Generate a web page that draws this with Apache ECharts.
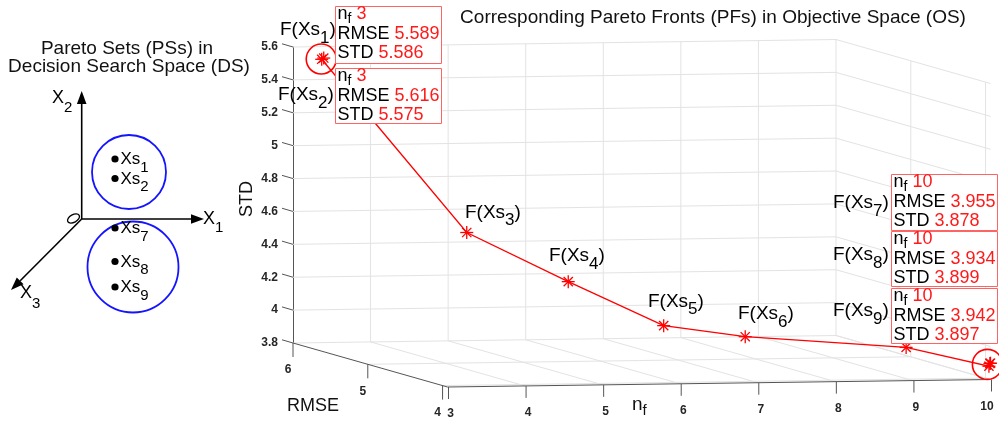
<!DOCTYPE html>
<html><head><meta charset="utf-8">
<script src="https://cdn.jsdelivr.net/npm/echarts@6/dist/echarts.min.js"></script>
<style>html,body{margin:0;padding:0;background:#fff}#c{width:999px;height:424px}</style>
</head><body><div id="c"></div>
<script>
// ---------------- data ----------------
const pointNames = ['Xs1', 'Xs2', 'Xs3', 'Xs4', 'Xs5', 'Xs6', '', 'Xs7', 'Xs8', 'Xs9'];
const nfVals   = [3, 3, 4, 5, 6, 7, 9, 10, 10, 10];
const rmseVals = [5.589, 5.616, 4.714, 4.394, 4.155, 4.102, 4.025, 3.955, 3.934, 3.942];
const stdVals  = [5.586, 5.575, 4.632, 4.368, 4.125, 4.058, 3.990, 3.878, 3.899, 3.897];
const nfTicks   = [3, 4, 5, 6, 7, 8, 9, 10];
const rmseTicks = [4, 5, 6];
const stdTicks  = [3.8, 4, 4.2, 4.4, 4.6, 4.8, 5, 5.2, 5.4, 5.6];
const boxedPoints = ['Xs1', 'Xs2', 'Xs7', 'Xs8', 'Xs9'];
const dsGroups = [['Xs1', 'Xs2'], ['Xs7', 'Xs8', 'Xs9']];

// ---------------- layout / styling ----------------
const FONT = '"Liberation Sans", Arial, Helvetica, sans-serif';
const NF_MIN = 3, NF_MAX = 10, STD_MIN = 3.8, STD_MAX = 5.6;
const RMSE_MAX = 6, RMSE_MIN = Math.min(...rmseVals);
const DEPTH = [154.5, 44];   // screen shift from back (RMSE max) to front (RMSE min)
const TILT = 7.5;            // screen rise of the box from nf min to nf max
const GRID_C = '#e3e3e3', AXIS_C = '#555', TXT_C = '#262626', RED = '#ff1a1a';

const cv = document.createElement('canvas').getContext('2d');
function tw(t, size, bold) { cv.font = (bold ? 'bold ' : '') + size + 'px ' + FONT; return cv.measureText(t).width; }
function txt(x, y, t, size, color, opt) {
  opt = opt || {};
  const font = (opt.bold ? 'bold ' : '') + size + 'px ' + FONT;
  const al = opt.align || 'left';
  return { type: 'text', x: x, y: y, z: opt.z || 100, rotation: opt.rotation || 0, silent: true,
    style: { text: t, fill: color || '#000', font: font, textAlign: al, align: al,
             textVerticalAlign: 'middle', verticalAlign: 'middle' } };
}
// text made of pieces with sub-scripts: parts = [text, size, color, dy]
function rich(x, y, parts, z) {
  const out = []; let cx = x;
  parts.forEach(p => { out.push(txt(cx, y + (p[3] || 0), p[0], p[1], p[2] || '#000', { z: z })); cx += tw(p[0], p[1]); });
  return out;
}

function projector(api) {
  return (n, r, s) => {
    const p = api.coord([n, s]);
    const d = (RMSE_MAX - r) / (RMSE_MAX - RMSE_MIN);
    return [p[0] + d * DEPTH[0], p[1] + d * DEPTH[1] - (n - NF_MIN) / (NF_MAX - NF_MIN) * TILT];
  };
}
function seg(a, b, color, w) {
  return { type: 'line', silent: true, shape: { x1: a[0], y1: a[1], x2: b[0], y2: b[1] }, style: { stroke: color, lineWidth: w || 1 } };
}

// ---------------- frame (3-D box, grid, axes) ----------------
function renderFrame(params, api) {
  const P = projector(api);
  const ch = [];
  // back wall
  stdTicks.forEach(s => ch.push(seg(P(NF_MIN, RMSE_MAX, s), P(NF_MAX, RMSE_MAX, s), GRID_C)));
  nfTicks.filter(n => n > NF_MIN).forEach(n => ch.push(seg(P(n, RMSE_MAX, STD_MIN), P(n, RMSE_MAX, STD_MAX), GRID_C)));
  // right wall
  stdTicks.forEach(s => ch.push(seg(P(NF_MAX, RMSE_MAX, s), P(NF_MAX, RMSE_MIN, s), GRID_C)));
  rmseTicks.filter(r => r < RMSE_MAX).forEach(r => ch.push(seg(P(NF_MAX, r, STD_MIN), P(NF_MAX, r, STD_MAX), GRID_C)));
  // floor
  nfTicks.filter(n => n > NF_MIN).forEach(n => ch.push(seg(P(n, RMSE_MAX, STD_MIN), P(n, RMSE_MIN, STD_MIN), GRID_C)));
  rmseTicks.filter(r => r < RMSE_MAX).forEach(r => ch.push(seg(P(NF_MIN, r, STD_MIN), P(NF_MAX, r, STD_MIN), GRID_C)));
  // axes
  ch.push(seg(P(NF_MIN, RMSE_MAX, STD_MIN), P(NF_MIN, RMSE_MIN, STD_MIN), AXIS_C));
  ch.push(seg(P(NF_MIN, RMSE_MIN, STD_MIN), P(NF_MAX, RMSE_MIN, STD_MIN), AXIS_C));
  // STD ticks (slanted, pointing backwards)
  stdTicks.forEach(s => { const a = P(NF_MIN, RMSE_MAX, s); ch.push(seg(a, [a[0] - 11, a[1] - 3.2], AXIS_C)); });
  // RMSE ticks + labels
  rmseTicks.forEach(r => {
    const a = P(NF_MIN, r, STD_MIN);
    ch.push(seg(a, [a[0], a[1] + 14], AXIS_C));
    ch.push(txt(a[0] - 5, a[1] + 27, String(r), 12, TXT_C, { bold: true, align: 'center', z: 2 }));
  });
  // nf ticks + labels
  nfTicks.forEach(n => {
    const a = P(n, RMSE_MIN, STD_MIN);
    ch.push(seg([a[0] + 1, a[1]], [a[0] + 1, a[1] + 12], AXIS_C));
    ch.push(txt(Math.min(a[0] + 3, 987), a[1] + 27, String(n), 12, TXT_C, { bold: true, align: 'center', z: 2 }));
  });
  return { type: 'group', children: ch };
}

// ---------------- Pareto front line + markers ----------------
function renderLine(params, api) {
  if (params.dataIndexInside !== 0) return null;
  const P = projector(api);
  const pts = [];
  for (let i = 0; i < params.dataInsideLength; i++) pts.push(P(api.value(0, i), api.value(2, i), api.value(1, i)));
  return { type: 'polyline', silent: true, shape: { points: pts }, style: { stroke: '#ff0000', lineWidth: 1.3, fill: null } };
}
function renderStar(params, api) {
  const P = projector(api);
  const c = P(api.value(0), api.value(2), api.value(1));
  const ch = [];
  const R = 6.5;
  for (let k = 0; k < 4; k++) {
    const a = k * Math.PI / 4;
    ch.push({ type: 'line', shape: { x1: c[0] - R * Math.cos(a), y1: c[1] - R * Math.sin(a), x2: c[0] + R * Math.cos(a), y2: c[1] + R * Math.sin(a) },
              style: { stroke: '#ff0000', lineWidth: 1.3 } });
  }
  const i = params.dataIndexInside;
  if (i === 0 || i === params.dataInsideLength - 1) {
    ch.push({ type: 'circle', shape: { cx: c[0] - 2.5, cy: c[1] + 1, r: 15 }, style: { stroke: '#ff0000', fill: null, lineWidth: 1.6 } });
  }
  return { type: 'group', children: ch };
}

// ---------------- annotations ----------------
const gfx = [];
// titles
gfx.push(txt(713, 18, 'Corresponding Pareto Fronts (PFs) in Objective Space (OS)', 19, '#111', { align: 'center' }));
gfx.push(txt(127, 49, 'Pareto Sets (PSs) in', 19, '#111', { align: 'center' }));
gfx.push(txt(129, 67, 'Decision Search Space (DS)', 19, '#111', { align: 'center' }));
// axis titles
gfx.push(txt(313, 406, 'RMSE', 18, '#111', { align: 'center' }));
gfx.push(...rich(632, 405, [['n', 19, '#111'], ['f', 15, '#111', 6]]));
gfx.push(txt(247, 199, 'STD', 18, '#111', { align: 'center', rotation: Math.PI / 2 }));

// Decision space sketch
const O = [81.7, 219];
const K = '#000';
gfx.push({ type: 'line', silent: true, shape: { x1: O[0], y1: O[1], x2: O[0], y2: 103 }, style: { stroke: K, lineWidth: 1.6 } });
gfx.push({ type: 'polygon', silent: true, shape: { points: [[O[0], 91], [O[0] - 4.8, 104], [O[0] + 4.8, 104]] }, style: { fill: K } });
gfx.push({ type: 'line', silent: true, shape: { x1: O[0], y1: O[1], x2: 192, y2: O[1] }, style: { stroke: K, lineWidth: 1.6 } });
gfx.push({ type: 'polygon', silent: true, shape: { points: [[204, O[1]], [191, O[1] - 4.8], [191, O[1] + 4.8]] }, style: { fill: K } });
(function () {
  const tip = [11, 290], dx = tip[0] - O[0], dy = tip[1] - O[1], L = Math.hypot(dx, dy), u = [dx / L, dy / L], nrm = [-u[1], u[0]];
  const base = [tip[0] - 13 * u[0], tip[1] - 13 * u[1]];
  gfx.push({ type: 'line', silent: true, shape: { x1: O[0], y1: O[1], x2: base[0], y2: base[1] }, style: { stroke: K, lineWidth: 1.6 } });
  gfx.push({ type: 'polygon', silent: true, shape: { points: [tip, [base[0] + 4.8 * nrm[0], base[1] + 4.8 * nrm[1]], [base[0] - 4.8 * nrm[0], base[1] - 4.8 * nrm[1]]] }, style: { fill: K } });
})();
gfx.push({ type: 'ellipse', silent: true, x: 73.5, y: 218.5, rotation: 0.5, shape: { cx: 0, cy: 0, rx: 6.5, ry: 3.8 }, style: { stroke: K, fill: null, lineWidth: 1.3 } });
gfx.push(...rich(52, 98.5, [['X', 18], ['2', 15, '#000', 9.5]]));
gfx.push(...rich(203, 219, [['X', 18], ['1', 15, '#000', 8.5]]));
gfx.push(...rich(20, 293.5, [['X', 18], ['3', 15, '#000', 10]]));
// groups of Pareto sets
const dsCircles = [{ cx: 129, cy: 172, r: 37 }, { cx: 133, cy: 267, r: 45.5 }];
const dsRowY = { Xs1: 159.5, Xs2: 179, Xs7: 228.5, Xs8: 262, Xs9: 287.5 };
dsGroups.forEach((g, gi) => {
  const c = dsCircles[gi];
  gfx.push({ type: 'circle', silent: true, shape: { cx: c.cx, cy: c.cy, r: c.r }, style: { stroke: '#1414ff', fill: null, lineWidth: 1.8 } });
  g.forEach(name => {
    const y = dsRowY[name];
    gfx.push({ type: 'circle', silent: true, shape: { cx: 115, cy: y - 0.5, r: 3.6 }, style: { fill: '#000' } });
    gfx.push(...rich(120.5, y, [[name.slice(0, 2), 17], [name.slice(2), 15, '#000', 8]]));
  });
});

// F(Xs) labels
const fLabelPos = { Xs1: [280, 30], Xs2: [278, 95], Xs3: [465, 212.5], Xs4: [549, 256], Xs5: [648, 301.5],
                    Xs6: [738, 314], Xs7: [833, 203], Xs8: [833, 255], Xs9: [833, 311] };
pointNames.forEach(name => {
  if (!name) return;
  const p = fLabelPos[name];
  gfx.push(...rich(p[0], p[1], [['F(' + name.slice(0, 2), 19], [name.slice(2), 17, '#000', 8], [')', 19]], 90));
});

// value boxes
const boxPos = { Xs1: [335, 6, 57], Xs2: [335, 68, 55], Xs7: [891, 174, 56], Xs8: [891, 231, 55], Xs9: [891, 288, 55] };
boxedPoints.forEach(name => {
  const i = pointNames.indexOf(name);
  const b = boxPos[name];
  gfx.push({ type: 'rect', silent: true, z: 95, shape: { x: b[0] + 0.5, y: b[1] + 0.5, width: 106, height: b[2] }, style: { fill: '#fff', stroke: '#ff6464', lineWidth: 1 } });
  const x = b[0] + 2.5;
  gfx.push(...rich(x, b[1] + 8.5, [['n', 18], ['f', 14, '#000', 5], [' ' + nfVals[i], 18, RED]], 100));
  gfx.push(...rich(x, b[1] + 28, [['RMSE', 18], [' ' + rmseVals[i].toFixed(3), 18, RED]], 100));
  gfx.push(...rich(x, b[1] + 47, [['STD', 18], [' ' + stdVals[i].toFixed(3), 18, RED]], 100));
});

// ---------------- chart ----------------
const chart = echarts.init(document.getElementById('c'), null, { renderer: 'canvas' });
const seriesData = nfVals.map((n, i) => [n, stdVals[i], rmseVals[i]]);
chart.setOption({
  animation: false,
  backgroundColor: '#fff',
  grid: { left: 293, top: 47, width: 543, height: 296, containLabel: false },
  xAxis: { type: 'value', min: NF_MIN, max: NF_MAX, interval: 1, show: false },
  yAxis: {
    type: 'value', min: STD_MIN, max: STD_MAX, interval: 0.2,
    axisLine: { show: true, lineStyle: { color: AXIS_C, width: 1 } },
    axisTick: { show: false }, splitLine: { show: false },
    axisLabel: { margin: 15, color: TXT_C, fontFamily: FONT, fontWeight: 'bold', fontSize: 12,
                 formatter: v => String(+v.toFixed(1)) }
  },
  series: [
    { type: 'custom', name: 'frame', coordinateSystem: 'cartesian2d', clip: false, silent: true, z: 1,
      data: [[NF_MIN, STD_MIN]], renderItem: renderFrame },
    { type: 'custom', name: 'Pareto front line', coordinateSystem: 'cartesian2d', clip: false, silent: true, z: 3,
      data: seriesData, renderItem: renderLine },
    { type: 'custom', name: 'Pareto front points', coordinateSystem: 'cartesian2d', clip: false, silent: true, z: 4,
      data: seriesData, renderItem: renderStar }
  ],
  graphic: { elements: gfx }
});
</script></body></html>
